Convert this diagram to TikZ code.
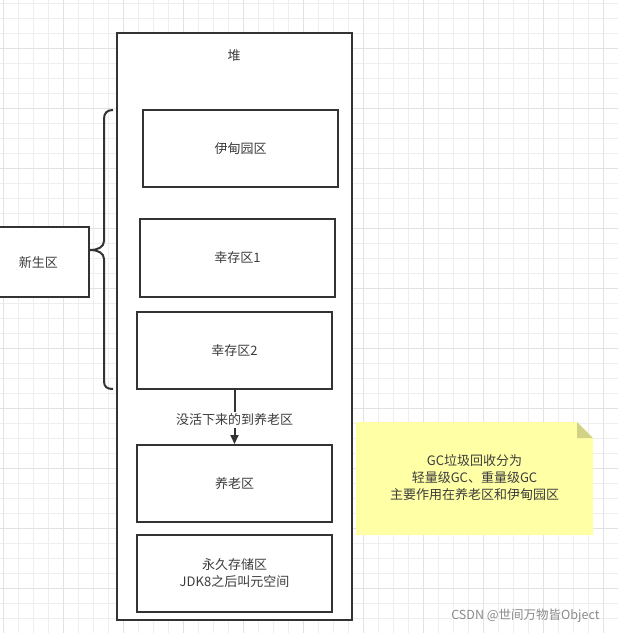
\documentclass[tikz,border=0pt]{standalone}
\usepackage{fontspec}
\setmainfont{Noto Sans CJK SC}
\usetikzlibrary{arrows.meta}
\definecolor{gridminor}{HTML}{EEEEEE}
\definecolor{gridmajor}{HTML}{E2E2E2}
\definecolor{ink}{HTML}{333333}
\definecolor{txt}{HTML}{3C3C3C}
\definecolor{notefill}{HTML}{FFFFA6}
\definecolor{notefold}{HTML}{D2D285}
\definecolor{wm}{HTML}{8A8A8A}
\tikzset{
  box/.style={draw=ink, line width=2pt, fill=white, align=center, text=txt, font=\fontsize{13}{17}\selectfont},
  lbl/.style={text=txt, font=\fontsize{13}{17}\selectfont, align=center},
  conn/.style={draw=ink, line width=2pt},
}
\begin{document}
\begin{tikzpicture}[x=1pt,y=-1pt]
\useasboundingbox (0,0) rectangle (618,633);
\fill[white] (0,0) rectangle (618,633);
% grid
\foreach \i in {0,...,41} {
  \pgfmathsetmacro{\p}{3+15*\i}
  \draw[gridminor, line width=0.8pt] (\p,0) -- (\p,633);
}
\foreach \i in {0,...,42} {
  \pgfmathsetmacro{\p}{3+15*\i}
  \draw[gridminor, line width=0.8pt] (0,\p) -- (618,\p);
}
\foreach \i in {0,...,10} {
  \pgfmathsetmacro{\p}{3+60*\i}
  \draw[gridmajor, line width=0.8pt] (\p,0) -- (\p,633);
}
\foreach \i in {0,...,10} {
  \pgfmathsetmacro{\p}{48+60*\i}
  \draw[gridmajor, line width=0.8pt] (0,\p) -- (618,\p);
}
% heap outer
\node[box, minimum width=235pt, minimum height=587pt, inner sep=0pt] (heap) at (234.5,326.5) {};
\node[lbl] (heaplbl) at (234,56) {堆};
% regions
\node[box, minimum width=195pt, minimum height=77pt] (eden) at (240.5,148.5) {伊甸园区};
\node[box, minimum width=195pt, minimum height=78pt] (s1) at (237.5,258) {幸存区1};
\node[box, minimum width=195pt, minimum height=77pt] (s2) at (234.5,350.5) {幸存区2};
\node[box, minimum width=195pt, minimum height=77pt] (old) at (234.5,483.5) {养老区};
\node[box, minimum width=195pt, minimum height=77pt] (perm) at (234.5,573.5) {永久存储区\\JDK8之后叫元空间};
% young gen
\node[box, minimum width=101pt, minimum height=70pt] (young) at (38.5,262) {新生区};
% brace
\coordinate (bt) at (113,110);
\coordinate (bb) at (113,389);
\coordinate (tip) at (90,250);
\draw[conn, line join=round]
  (bt) .. controls (107,110) and (104,113) .. (104,119)
  -- (104,241) .. controls (104,247) and (98,250) .. (tip)
  .. controls (98,250) and (104,253) .. (104,259)
  -- (104,381) .. controls (104,387) and (107,389) .. (bb);
% arrow
\draw[conn, -{Triangle[width=8pt,length=9pt]}] (s2.south) -- (old.north);
\node[fill=white, lbl, inner sep=2pt] (arrlbl) at (234.5,420) {没活下来的到养老区};
% note
\fill[notefill] (356,422) -- (577,422) -- (593,438) -- (593,535) -- (356,535) -- cycle;
\fill[notefold] (577,422) -- (593,438) -- (577,438) -- cycle;
\node[lbl] (note) at (474.5,478) {GC垃圾回收分为\\轻量级GC、重量级GC\\主要作用在养老区和伊甸园区};
% watermark
\node[text=wm, font=\fontsize{12.5}{14}\selectfont, anchor=east] (wmk) at (603,616) {CSDN @世间万物皆Object};
\end{tikzpicture}
\end{document}
